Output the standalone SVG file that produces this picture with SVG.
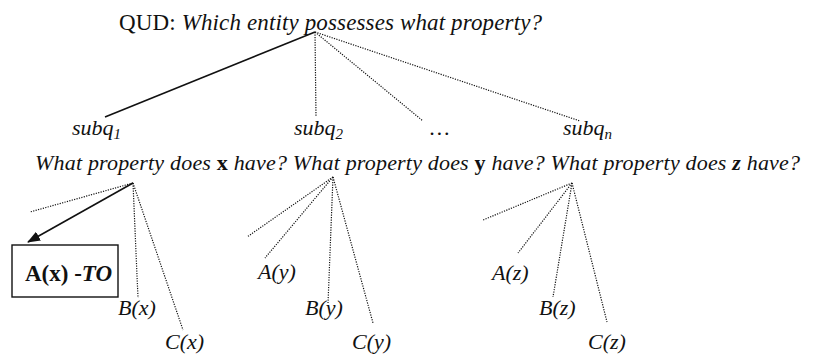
<svg xmlns="http://www.w3.org/2000/svg" width="821" height="355" viewBox="0 0 821 355">
<defs>
<style>
text{font-family:"Liberation Serif","Times New Roman",serif;font-size:22px;fill:#111}
.i{font-style:italic}
.b{font-weight:bold}
.sub{font-size:15px}
.dot{stroke:#111;stroke-width:1.2;stroke-dasharray:1.2 1.3;fill:none}
.sol{stroke:#111;stroke-width:1.6;fill:none}
</style>
<marker id="ah" markerWidth="13" markerHeight="10" refX="12" refY="5" orient="auto" markerUnits="userSpaceOnUse">
<path d="M0,0 L13,5 L0,10 Z" fill="#111"/>
</marker>
</defs>
<g id="connectors">
<line class="sol" x1="315" y1="32" x2="105" y2="117"/>
<line class="dot" x1="315" y1="32" x2="316" y2="117"/>
<line class="dot" x1="315" y1="32" x2="423" y2="121"/>
<line class="dot" x1="315" y1="32" x2="580" y2="121"/>
<line class="dot" x1="133" y1="183" x2="30" y2="212"/>
<line class="sol" x1="133" y1="183" x2="28" y2="242" marker-end="url(#ah)"/>
<line class="dot" x1="133" y1="183" x2="138" y2="298"/>
<line class="dot" x1="133" y1="183" x2="183" y2="330"/>
<line class="dot" x1="333" y1="177" x2="247" y2="237"/>
<line class="dot" x1="333" y1="177" x2="265" y2="258"/>
<line class="dot" x1="333" y1="177" x2="328" y2="303"/>
<line class="dot" x1="333" y1="177" x2="373" y2="323"/>
<line class="dot" x1="572" y1="183" x2="483" y2="220"/>
<line class="dot" x1="572" y1="183" x2="518" y2="253"/>
<line class="dot" x1="572" y1="183" x2="553" y2="297"/>
<line class="dot" x1="572" y1="183" x2="607" y2="322"/>
</g>
<g id="qud"><text x="119" y="30" style="font-size:23px" textLength="423" lengthAdjust="spacing">QUD: <tspan class="i">Which entity possesses what property?</tspan></text></g>
<g id="subq1"><text x="72" y="135" class="i">subq<tspan class="sub" dy="4">1</tspan></text></g>
<g id="subq2"><text x="294" y="135" class="i">subq<tspan class="sub" dy="4">2</tspan></text></g>
<g id="ellipsis"><text x="430" y="135" class="i">…</text></g>
<g id="subqn"><text x="563" y="135" class="i">subq<tspan class="sub" dy="4">n</tspan></text></g>
<g id="questions"><text x="35" y="170" class="i" textLength="765" lengthAdjust="spacing">What property does <tspan class="b" font-style="normal">x</tspan> have? What property does <tspan class="b" font-style="normal">y</tspan> have? What property does <tspan class="b">z</tspan> have?</text></g>
<g id="ax"><rect x="12" y="245" width="106" height="52" fill="none" stroke="#111" stroke-width="1.4"/><text x="25" y="281" class="b" style="font-size:23px">A(x) -<tspan class="i">TO</tspan></text></g>
<g id="bx"><text x="118" y="315" class="i">B(x)</text></g>
<g id="cx"><text x="165" y="349" class="i">C(x)</text></g>
<g id="ay"><text x="258" y="279" class="i">A(y)</text></g>
<g id="by"><text x="305" y="315" class="i">B(y)</text></g>
<g id="cy"><text x="352" y="349" class="i">C(y)</text></g>
<g id="az"><text x="492" y="280" class="i">A(z)</text></g>
<g id="bz"><text x="539" y="315" class="i">B(z)</text></g>
<g id="cz"><text x="588" y="349" class="i">C(z)</text></g>
</svg>
